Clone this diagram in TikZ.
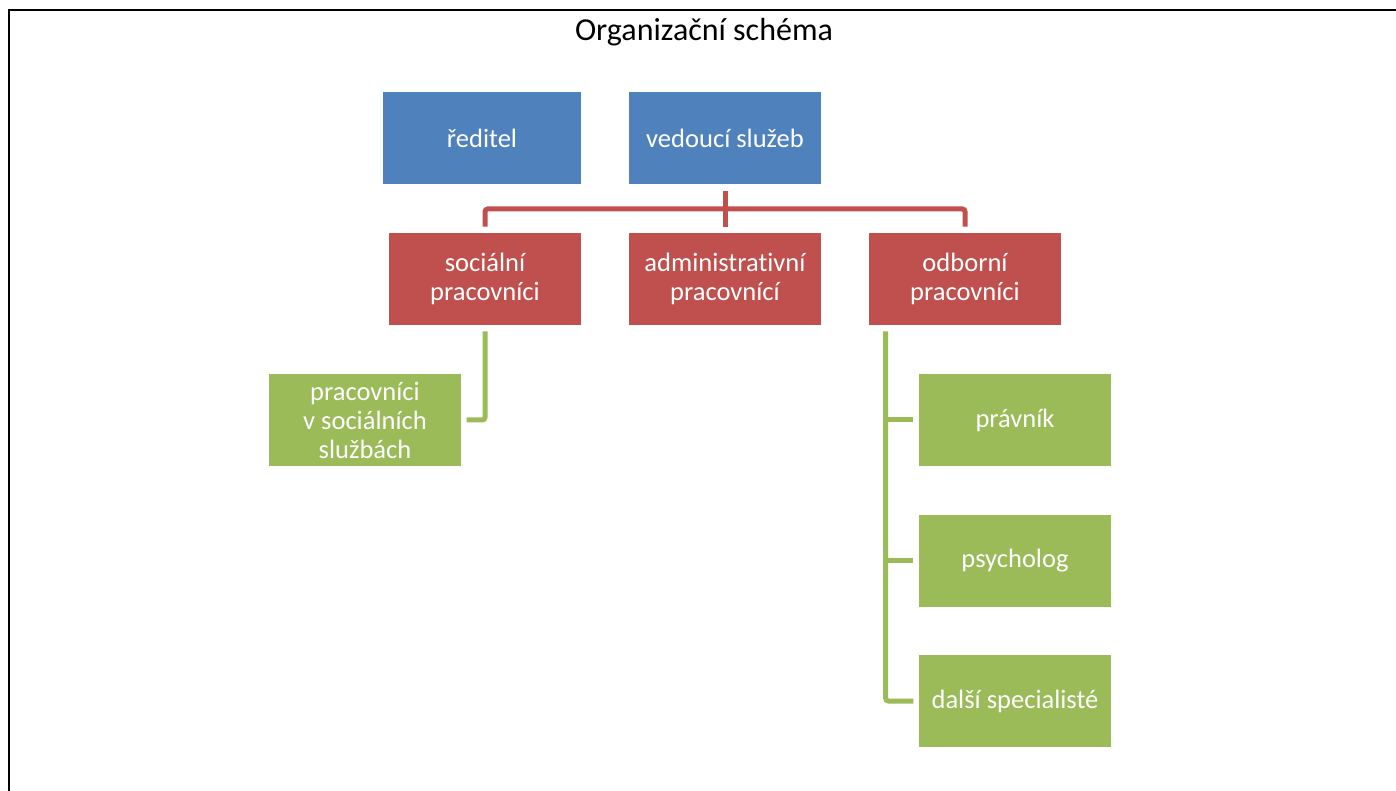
\documentclass[tikz,border=0pt]{standalone}
\usepackage{fontspec}
\setmainfont{Carlito}[Ligatures={NoCommon}]
\definecolor{cblue}{HTML}{4F81BD}
\definecolor{cred}{HTML}{C0504D}
\definecolor{cgreen}{HTML}{9BBB59}
\tikzset{
  box/.style={fill=#1, draw=none, text=white, align=center, inner sep=0pt,
    minimum width=144pt, minimum height=69pt,
    font=\fontsize{19.9}{21.75}\selectfont},
  redline/.style={draw=cred, line width=3.75pt, rounded corners=2pt},
  greenline/.style={draw=cgreen, line width=3.75pt, rounded corners=2pt},
  frameline/.style={draw=black, line width=1.5pt},
}
\begin{document}
\begin{tikzpicture}[x=0.75pt, y=-0.75pt]
\useasboundingbox (0,0) rectangle (1396,791);
\coordinate (fb) at (9,791);
\coordinate (fc) at (9,10);
\coordinate (fr) at (1396,10);
\draw[frameline] (fb) -- (fc) -- (fr);

\node[anchor=base, font=\fontsize{24}{28}\selectfont] (title) at (704,41) {Organizační schéma};

\node[box=cblue, minimum width=148.5pt] (reditel) at (482,138) {ředitel};
\node[box=cblue] (vedouci) at (725,138) {vedoucí služeb};

\node[box=cred] (soc) at (485,279) {sociální\\pracovníci};
\node[box=cred] (adm) at (725,279) {administrat\kern0pt ivní\\pracovnící};
\node[box=cred] (odb) at (965,279) {odborní\\pracovníci};

\node[box=cgreen] (pvss) at (365,420) {pracovníci\\v sociálních\\službách};
\node[box=cgreen] (pravnik) at (1015,420) {právník};
\node[box=cgreen] (psych) at (1015,560.5) {psycholog};
\node[box=cgreen] (dalsi) at (1015,701) {další specialisté};

% red bus
\coordinate (vtop) at ([yshift=-5.25pt]vedouci.south);
\coordinate (bus) at (725,209);
\draw[redline] (vtop) -- ([yshift=4.5pt]adm.north);
\draw[redline] ([yshift=4.5pt]soc.north) |- (bus) -| ([yshift=4.5pt]odb.north);

% green left
\draw[greenline] ([yshift=-4.5pt]soc.south) |- ([xshift=4pt]pvss.east);

% green right
\coordinate (gtop) at ([xshift=12.75pt,yshift=-4.5pt]odb.south west);
\draw[greenline] (gtop) |- ([xshift=-4pt]dalsi.west);
\draw[greenline] (gtop |- pravnik.west) -- ([xshift=-4pt]pravnik.west);
\draw[greenline] (gtop |- psych.west) -- ([xshift=-4pt]psych.west);
\end{tikzpicture}
\end{document}
